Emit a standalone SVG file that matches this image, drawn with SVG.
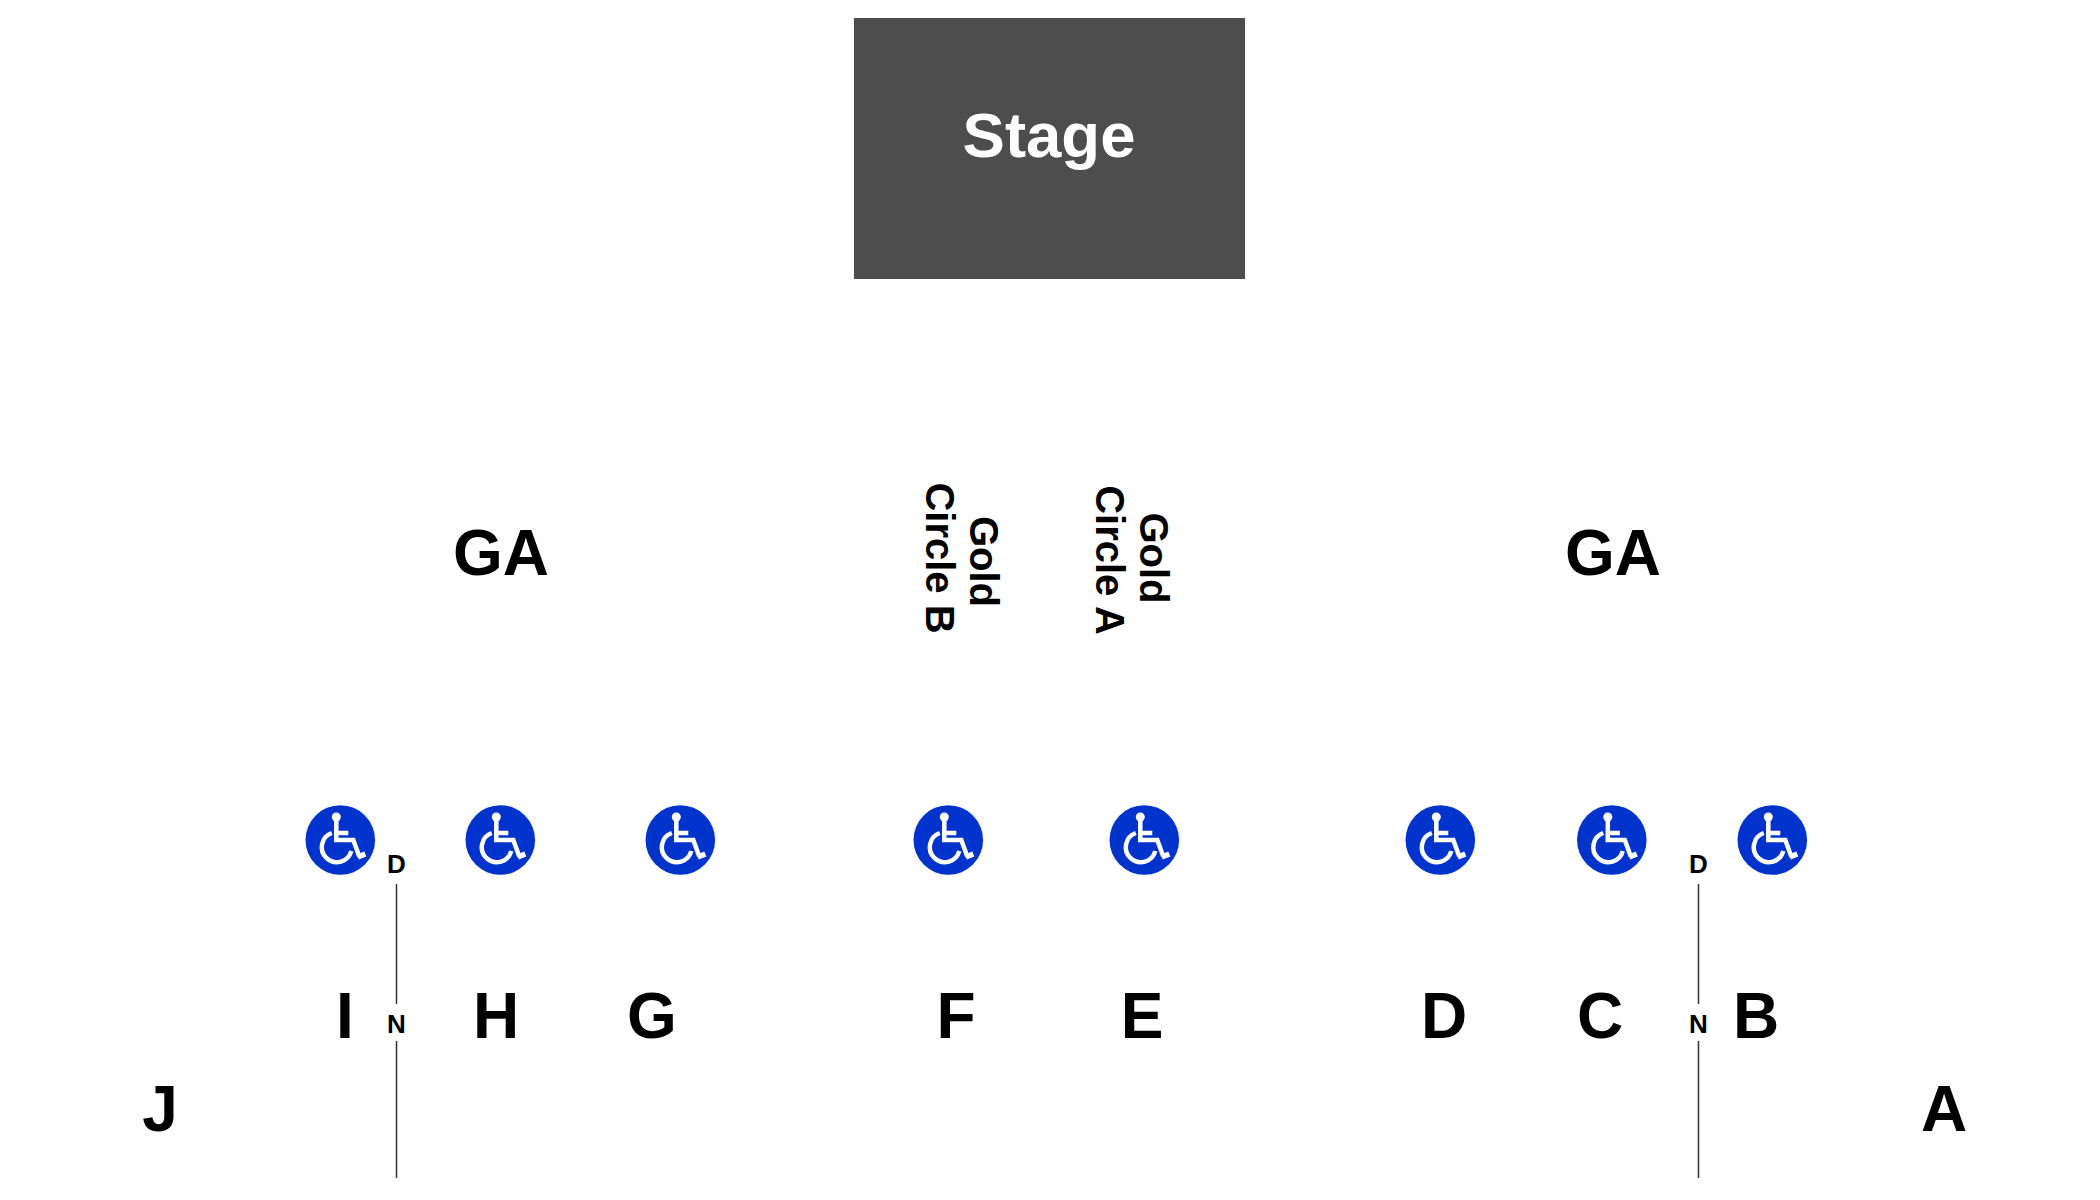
<svg xmlns="http://www.w3.org/2000/svg" xmlns:xlink="http://www.w3.org/1999/xlink" width="2100" height="1200" viewBox="0 0 2100 1200">
<style>
text{font-family:"Liberation Sans",Arial,sans-serif;font-weight:700;fill:#000;text-anchor:middle}
.sec{font-size:64px}.ga{font-size:64px}.door{font-size:26px}.gold{font-size:40px}.stage{font-size:63.500px;fill:#fff}
.aisle{stroke:#333;stroke-width:1.500;fill:none}
</style>
<defs>
<g id="wc">
<circle r="34.800" fill="#0033cc"/>
<g fill="none" stroke="#fff" stroke-width="4.500">
<path d="M-4-20V0H13L19 16.500"/>
<path d="M-4-7H8"/>
<path d="M17.500 17L25 14" stroke-width="5.500"/>
<path d="M-8.500-7A15 15 0 1 0 11 11"/>
</g>
<circle cx="-4" cy="-23" r="4.500" fill="#fff"/>
</g>
</defs>
<rect width="2100" height="1200" fill="#fff"/>
<g id="stage"><rect x="854" y="18" width="391" height="261" fill="#4d4d4d"/><text class="stage" x="1049" y="157">Stage</text></g>
<g id="section-ga-left"><text class="ga" x="501" y="575">GA</text></g>
<g id="section-ga-right"><text class="ga" x="1613" y="575">GA</text></g>
<g id="gold-circle-b"><text class="gold" transform="translate(970 559) rotate(90)"><tspan x="2.500" y="0">Gold</tspan><tspan x="-1" y="44">Circle B</tspan></text></g>
<g id="gold-circle-a"><text class="gold" transform="translate(1140 560) rotate(90)"><tspan x="-2" y="0">Gold</tspan><tspan x="0" y="44">Circle A</tspan></text></g>
<g id="ada-1"><use xlink:href="#wc" href="#wc" x="340.300" y="840"/></g>
<g id="ada-2"><use xlink:href="#wc" href="#wc" x="500.300" y="840"/></g>
<g id="ada-3"><use xlink:href="#wc" href="#wc" x="680.300" y="840"/></g>
<g id="ada-4"><use xlink:href="#wc" href="#wc" x="948.300" y="840"/></g>
<g id="ada-5"><use xlink:href="#wc" href="#wc" x="1144.300" y="840"/></g>
<g id="ada-6"><use xlink:href="#wc" href="#wc" x="1440.300" y="840"/></g>
<g id="ada-7"><use xlink:href="#wc" href="#wc" x="1611.800" y="840"/></g>
<g id="ada-8"><use xlink:href="#wc" href="#wc" x="1772.300" y="840"/></g>
<g id="connectors">
<path class="aisle" d="M396.500 884V1004M396.500 1041V1178"/>
<path class="aisle" d="M1698.500 884V1004M1698.500 1041V1178"/>
</g>
<g id="door-left"><text class="door" x="396.500" y="873">D</text><text class="door" x="396.500" y="1033">N</text></g>
<g id="door-right"><text class="door" x="1698.500" y="873">D</text><text class="door" x="1698.500" y="1033">N</text></g>
<g id="section-j"><text class="sec" x="160" y="1131">J</text></g>
<g id="section-i"><text class="sec" x="345" y="1038">I</text></g>
<g id="section-h"><text class="sec" x="496" y="1038">H</text></g>
<g id="section-g"><text class="sec" x="652" y="1038">G</text></g>
<g id="section-f"><text class="sec" x="956" y="1038">F</text></g>
<g id="section-e"><text class="sec" x="1142" y="1038">E</text></g>
<g id="section-d"><text class="sec" x="1444" y="1038">D</text></g>
<g id="section-c"><text class="sec" x="1600" y="1038">C</text></g>
<g id="section-b"><text class="sec" x="1756" y="1038">B</text></g>
<g id="section-a"><text class="sec" x="1944" y="1131">A</text></g>
</svg>
